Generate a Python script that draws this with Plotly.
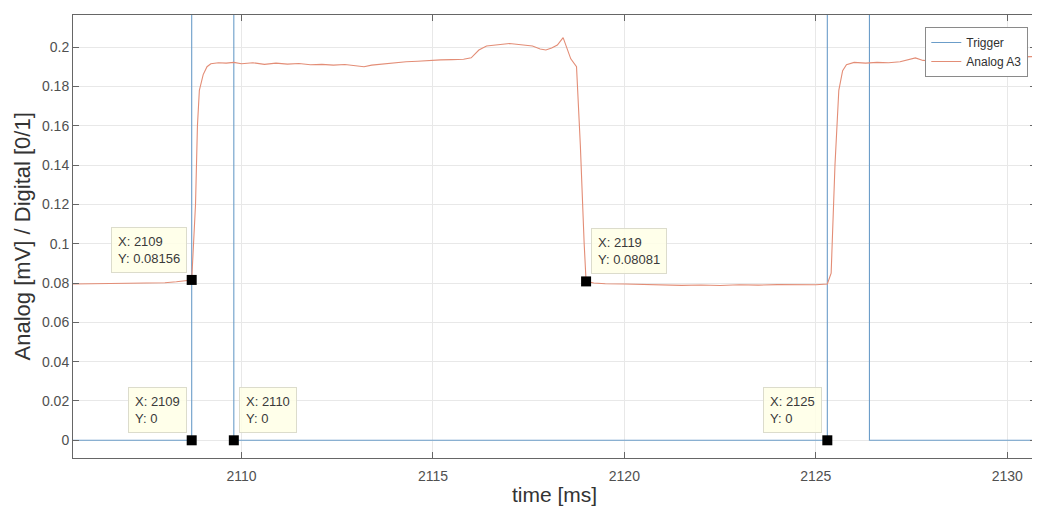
import plotly.graph_objects as go

# ---------------- data ----------------
trigger_t = [2105.6, 2108.7, 2108.7, 2109.8, 2109.8, 2125.3, 2125.3, 2126.4, 2126.4, 2130.8]
trigger_v = [0, 0, 1, 1, 0, 0, 1, 1, 0, 0]

analog_t = [2105.6, 2106.0, 2106.5, 2107.0, 2107.5, 2108.0, 2108.3, 2108.5, 2108.7,
            2108.8, 2108.85, 2108.9, 2109.0, 2109.1, 2109.2, 2109.4, 2109.6, 2109.8,
            2110.0, 2110.3, 2110.6, 2110.9, 2111.2, 2111.5, 2111.8, 2112.1, 2112.4,
            2112.7, 2113.0, 2113.2, 2113.4, 2113.6, 2113.8, 2114.0, 2114.3, 2114.6,
            2114.9, 2115.2, 2115.5, 2115.8, 2116.0, 2116.2, 2116.4, 2116.7, 2117.0,
            2117.3, 2117.6, 2117.8, 2117.95, 2118.1, 2118.25, 2118.4, 2118.5, 2118.6,
            2118.75, 2118.85, 2118.95, 2119.0, 2119.2, 2119.5, 2120.0, 2120.5, 2121.0,
            2121.5, 2122.0, 2122.5, 2123.0, 2123.5, 2124.0, 2124.5, 2125.0, 2125.3,
            2125.4, 2125.5, 2125.6, 2125.7, 2125.8, 2126.0, 2126.3, 2126.6, 2126.9,
            2127.2, 2127.4, 2127.6, 2127.8, 2128.0, 2128.4, 2128.8, 2129.2, 2129.6,
            2130.0, 2130.4, 2130.8]
analog_v = [0.0795, 0.0796, 0.0794, 0.0797, 0.0799, 0.0801, 0.0806, 0.0810, 0.08156,
            0.1200, 0.1600, 0.1780, 0.1860, 0.1900, 0.1915, 0.1920, 0.1918, 0.1922,
            0.1915, 0.1920, 0.1912, 0.1918, 0.1913, 0.1916, 0.1910, 0.1912, 0.1908,
            0.1911, 0.1905, 0.1900, 0.1908, 0.1912, 0.1918, 0.1922, 0.1925, 0.1928,
            0.1932, 0.1935, 0.1936, 0.1938, 0.1945, 0.1985, 0.2005, 0.2012, 0.2018,
            0.2012, 0.2005, 0.1990, 0.1985, 0.1995, 0.2010, 0.2048, 0.1990, 0.1940,
            0.1900, 0.1500, 0.1000, 0.08081, 0.0800, 0.0796, 0.0795, 0.0793, 0.0790,
            0.0788, 0.0790, 0.0787, 0.0791, 0.0789, 0.0792, 0.0790, 0.0791, 0.0795,
            0.0850, 0.1400, 0.1780, 0.1880, 0.1910, 0.1922, 0.1918, 0.1922, 0.1920,
            0.1925, 0.1935, 0.1945, 0.1932, 0.1930, 0.1938, 0.1942, 0.1940, 0.1945,
            0.1948, 0.1950, 0.1952]

# data tips: x, y, side of the box relative to the point
tip_x = [2108.7, 2108.7, 2109.8, 2119.0, 2125.3]
tip_y = [0.08156, 0.0, 0.0, 0.08081, 0.0]
tip_side = ["left", "left", "right", "right", "left"]

x_ticks = [2110, 2115, 2120, 2125, 2130]
y_ticks = [0, 0.02, 0.04, 0.06, 0.08, 0.1, 0.12, 0.14, 0.16, 0.18, 0.2]
y_tick_text = ["0", "0.02", "0.04", "0.06", "0.08", "0.1", "0.12", "0.14", "0.16", "0.18", "0.2"]

x_label = "time [ms]"
y_label = "Analog [mV] / Digital [0/1]"

FONT = "Liberation Sans, Arial, Helvetica, sans-serif"
BLUE = "#6b9dc9"
RED = "#e38d76"

fig = go.Figure()
fig.add_trace(go.Scatter(x=trigger_t, y=trigger_v, mode="lines", name="Trigger",
                         line=dict(color=BLUE, width=1.1)))
fig.add_trace(go.Scatter(x=analog_t, y=analog_v, mode="lines", name="Analog A3",
                         line=dict(color=RED, width=1.1)))
fig.add_trace(go.Scatter(x=tip_x, y=tip_y, mode="markers", showlegend=False,
                         marker=dict(symbol="square", size=10, color="black"),
                         cliponaxis=False, hoverinfo="skip"))

for x, y, side in zip(tip_x, tip_y, tip_side):
    txt = f"X: {x:.4g}<br>Y: {y:.4g}"
    fig.add_annotation(
        x=x, y=y, xref="x", yref="y", text=txt, showarrow=False,
        xanchor="right" if side == "left" else "left", yanchor="bottom",
        xshift=-5 if side == "left" else 5, yshift=7,
        align="left", font=dict(family=FONT, size=13, color="#3a3a3a"),
        bgcolor="rgba(255,255,230,0.85)", bordercolor="#dcdccc", borderwidth=1,
        borderpad=6,
    )

# axis titles
fig.add_annotation(text=x_label, xref="paper", yref="paper", x=0.5, y=-0.083,
                   xanchor="center", yanchor="middle", showarrow=False,
                   font=dict(family=FONT, size=21, color="#333333"))
fig.add_annotation(text=y_label, xref="paper", yref="paper", x=-0.052, y=0.5,
                   xanchor="center", yanchor="middle", showarrow=False, textangle=-90,
                   font=dict(family=FONT, size=22, color="#333333"))

# page body has an 8px margin: figure sized/margined so the plot box lands at
# x 73..1036, y 15..458 in the window
fig.update_layout(
    width=1032, height=506,
    margin=dict(l=65, r=4, t=7, b=56, autoexpand=False),
    paper_bgcolor="white", plot_bgcolor="white",
    font=dict(family=FONT, size=14, color="#404040"),
    showlegend=True,
    legend=dict(x=0.992, y=0.973, xanchor="right", yanchor="top",
                bgcolor="white", bordercolor="#8a8a8a", borderwidth=1,
                font=dict(family=FONT, size=12, color="#303030"),
                itemwidth=30, tracegroupgap=0),
)
fig.update_xaxes(
    range=[2105.6, 2130.75], tickvals=x_ticks, ticktext=[str(v) for v in x_ticks],
    automargin=False, ticklabelstandoff=5,
    showgrid=True, gridcolor="#e8e8e8", gridwidth=1, zeroline=False,
    showline=True, linecolor="#666666", linewidth=1, mirror="ticks",
    ticks="inside", ticklen=6, tickcolor="#666666",
    tickfont=dict(family=FONT, size=14, color="#505050"),
)
fig.update_yaxes(
    range=[-0.009, 0.2163], tickvals=y_ticks, ticktext=y_tick_text,
    automargin=False,
    showgrid=True, gridcolor="#e8e8e8", gridwidth=1, zeroline=False,
    showline=True, linecolor="#666666", linewidth=1, mirror="ticks",
    ticks="inside", ticklen=6, tickcolor="#666666",
    tickfont=dict(family=FONT, size=14, color="#505050"),
)

fig.write_html("out.html")
